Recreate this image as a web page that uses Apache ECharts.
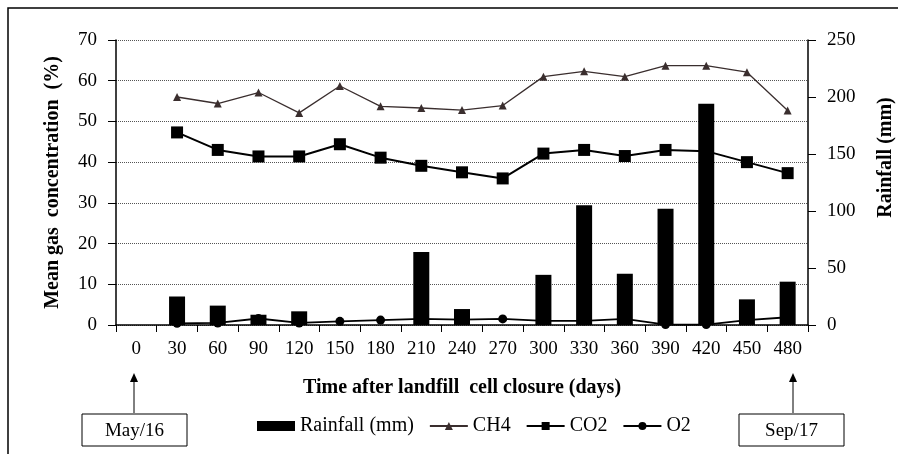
<!DOCTYPE html>
<html>
<head>
<meta charset="utf-8">
<script src="https://cdn.jsdelivr.net/npm/echarts@6/dist/echarts.min.js"></script>
<style>
  html, body { margin: 0; padding: 0; background: #fff; }
  #chart { width: 898px; height: 454px; }
</style>
</head>
<body>
<div id="chart"></div>
<script>
// 横轴：填埋单元封闭后的天数
const days = ['0', '30', '60', '90', '120', '150', '180', '210', '240', '270', '300', '330', '360', '390', '420', '450', '480'];

// 降雨量 (mm)，右轴
const rainfall = [null, 25, 17, 9, 12, 0, 0, 64, 14, 0, 44, 105, 45, 102, 194, 22.5, 38];

// 气体浓度 (%)，左轴
const ch4 = [null, 56.0, 54.4, 57.1, 52.1, 58.7, 53.7, 53.3, 52.8, 53.9, 61.0, 62.3, 61.0, 63.7, 63.7, 62.1, 52.7];
const co2 = [null, 47.3, 43.0, 41.4, 41.4, 44.4, 41.1, 39.1, 37.5, 36.0, 42.1, 43.0, 41.5, 43.0, 42.7, 40.0, 37.3];
const o2 = [null, 0.4, 0.5, 1.6, 0.5, 0.9, 1.2, 1.5, 1.3, 1.5, 1.0, 1.0, 1.5, 0.1, 0.1, 1.2, 1.9];

const serif = '"Liberation Serif", "Times New Roman", serif';
const titleStyle = { fontFamily: serif, fontSize: 20, fontWeight: 'bold', color: '#000' };
const tickStyle = { fontFamily: serif, fontSize: 19, color: '#000' };

const chart = echarts.init(document.getElementById('chart'));

chart.setOption({
    animation: false,
    backgroundColor: '#fff',
    textStyle: { fontFamily: serif, color: '#000' },
    grid: { left: 116, right: 90, top: 40, bottom: 129, outerBoundsMode: 'none', containLabel: false },
    legend: {
        top: 411,
        left: 252,
        itemWidth: 38,
        itemHeight: 10,
        itemGap: 15,
        textStyle: { fontFamily: serif, fontSize: 20, color: '#000' },
        data: [{ name: 'Rainfall (mm)', icon: 'rect' }, 'CH4', 'CO2', 'O2']
    },
    xAxis: {
        type: 'category',
        data: days,
        boundaryGap: true,
        name: 'Time after landfill  cell closure (days)',
        nameLocation: 'middle',
        nameGap: 53,
        nameTextStyle: titleStyle,
        axisLine: { lineStyle: { color: '#000', width: 1.5 } },
        axisTick: { show: true, alignWithLabel: false, length: 7, lineStyle: { color: '#000' } },
        axisLabel: Object.assign({ margin: 15, interval: 0 }, tickStyle),
        splitLine: { show: false }
    },
    yAxis: [{
        type: 'value',
        min: 0,
        max: 70,
        interval: 10,
        name: 'Mean gas  concentration  (%)',
        nameLocation: 'middle',
        nameRotate: 90,
        nameGap: 53,
        nameTextStyle: titleStyle,
        axisLine: { show: true, lineStyle: { color: '#000', width: 1.5 } },
        axisTick: { show: true, length: 8, lineStyle: { color: '#000' } },
        axisLabel: Object.assign({ margin: 19 }, tickStyle),
        splitLine: { show: true, lineStyle: { color: '#555', type: 'dotted', width: 1 } }
    }, {
        type: 'value',
        min: 0,
        max: 250,
        interval: 50,
        position: 'right',
        name: 'Rainfall (mm)',
        nameLocation: 'middle',
        nameRotate: 90,
        nameGap: 68,
        nameTextStyle: Object.assign({ padding: [0, 0, 0, 50] }, titleStyle),
        axisLine: { show: true, lineStyle: { color: '#000', width: 1.5 } },
        axisTick: { show: true, length: 8, lineStyle: { color: '#000' } },
        axisLabel: Object.assign({ margin: 19 }, tickStyle),
        splitLine: { show: false }
    }],
    series: [{
        name: 'Rainfall (mm)',
        type: 'bar',
        yAxisIndex: 1,
        data: rainfall,
        barWidth: 16,
        itemStyle: { color: '#000' },
        z: 5
    }, {
        name: 'CH4',
        type: 'line',
        data: ch4,
        symbol: 'triangle',
        symbolSize: 8,
        lineStyle: { color: '#3a2e2e', width: 1.3 },
        itemStyle: { color: '#3a2e2e' },
        z: 3
    }, {
        name: 'CO2',
        type: 'line',
        data: co2,
        symbol: 'rect',
        symbolSize: 12,
        lineStyle: { color: '#000', width: 2 },
        itemStyle: { color: '#000' },
        z: 3
    }, {
        name: 'O2',
        type: 'line',
        data: o2,
        symbol: 'circle',
        symbolSize: 9,
        lineStyle: { color: '#000', width: 1.8 },
        itemStyle: { color: '#000' },
        z: 3
    }],
    graphic: [
        // 外框
        { type: 'rect', shape: { x: 8, y: 8, width: 900, height: 460 }, style: { fill: 'none', stroke: '#000', lineWidth: 1.5 }, silent: true },
        // 起止日期标注
        { type: 'line', shape: { x1: 134, y1: 413, x2: 134, y2: 380 }, style: { stroke: '#000', lineWidth: 1 } },
        { type: 'polygon', shape: { points: [[134, 373], [130, 382], [138, 382]] }, style: { fill: '#000' } },
        { type: 'rect', shape: { x: 82, y: 414, width: 105, height: 32 }, style: { fill: '#fff', stroke: '#000', lineWidth: 1 } },
        { type: 'text', x: 134.5, y: 431, style: { text: 'May/16', fontFamily: serif, fontSize: 19, fill: '#000', align: 'center', verticalAlign: 'middle' } },
        { type: 'line', shape: { x1: 793, y1: 413, x2: 793, y2: 380 }, style: { stroke: '#000', lineWidth: 1 } },
        { type: 'polygon', shape: { points: [[793, 373], [789, 382], [797, 382]] }, style: { fill: '#000' } },
        { type: 'rect', shape: { x: 739, y: 414, width: 105, height: 32 }, style: { fill: '#fff', stroke: '#000', lineWidth: 1 } },
        { type: 'text', x: 791.5, y: 431, style: { text: 'Sep/17', fontFamily: serif, fontSize: 19, fill: '#000', align: 'center', verticalAlign: 'middle' } }
    ]
});
</script>
</body>
</html>
